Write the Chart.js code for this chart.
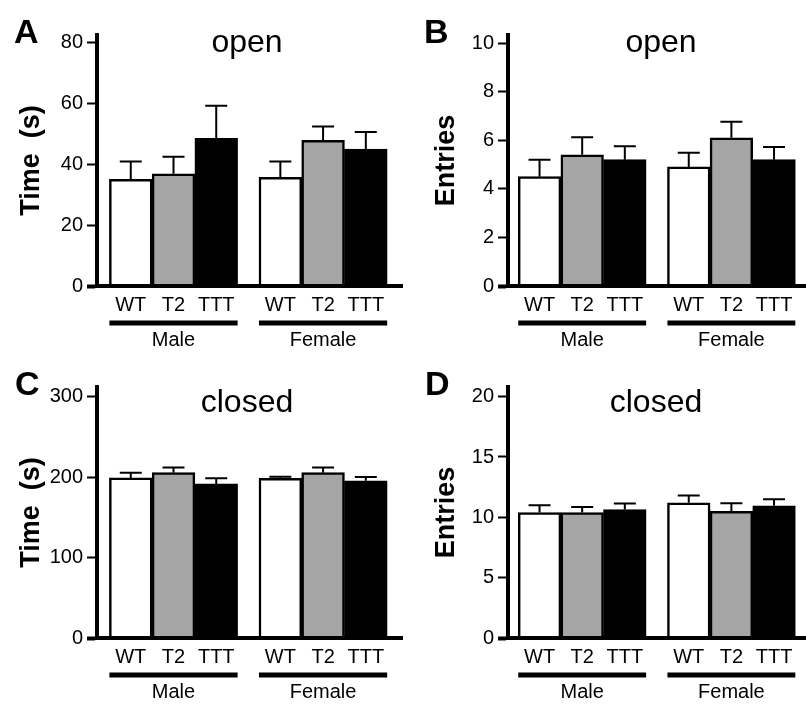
<!DOCTYPE html>
<html>
<head>
<meta charset="utf-8">
<script src="https://cdn.jsdelivr.net/npm/chart.js@4.4.1/dist/chart.umd.min.js"></script>
<style>
  html, body { margin: 0; padding: 0; background: #fff; }
  #wrap { position: relative; width: 806px; height: 704px; }
  .panel { position: absolute; width: 403px; height: 352px; }
  canvas { display: block; }
</style>
</head>
<body>
<div id="wrap">
  <div class="panel" style="left:0;top:0"><canvas id="panel-a" width="403" height="352"></canvas></div>
  <div class="panel" style="left:403px;top:0"><canvas id="panel-b" width="403" height="352"></canvas></div>
  <div class="panel" style="left:0;top:352px"><canvas id="panel-c" width="403" height="352"></canvas></div>
  <div class="panel" style="left:403px;top:352px"><canvas id="panel-d" width="403" height="352"></canvas></div>
</div>
<script>
const sexes = ['Male', 'Female'];
const barPositions = [0, 1, 2, 3.5, 4.5, 5.5];
const xTickLabels = ['WT', 'T2', 'TTT', 'WT', 'T2', 'TTT'];

// open arms
const openTimeMean = [35.0, 36.8, 48.4, 35.6, 47.8, 44.9];
const openTimeSem = [5.8, 5.6, 10.7, 5.2, 4.5, 5.6];
const openTimeTicks = [0, 20, 40, 60, 80];

const openEntriesMean = [4.5, 5.4, 5.2, 4.9, 6.1, 5.2];
const openEntriesSem = [0.7, 0.72, 0.55, 0.58, 0.66, 0.52];
const openEntriesTicks = [0, 2, 4, 6, 8, 10];

// closed arms
const closedTimeMean = [199, 205.5, 191.5, 198.5, 205.5, 195.5];
const closedTimeSem = [6.5, 6.5, 7, 2, 6.5, 4.5];
const closedTimeTicks = [0, 100, 200, 300];

const closedEntriesMean = [10.4, 10.4, 10.65, 11.2, 10.5, 10.95];
const closedEntriesSem = [0.6, 0.45, 0.5, 0.6, 0.67, 0.55];
const closedEntriesTicks = [0, 5, 10, 15, 20];

const barColors = ['#ffffff', '#a5a5a5', '#000000'];
const FONT = '"Liberation Sans", Arial, Helvetica, sans-serif';

Chart.defaults.font.family = FONT;
Chart.defaults.color = '#000';

const errorBars = {
  id: 'errorBars',
  afterDatasetsDraw(chart) {
    const { ctx } = chart;
    const yScale = chart.scales.y;
    const ds = chart.data.datasets[0];
    const meta = chart.getDatasetMeta(0);
    ctx.save();
    ctx.strokeStyle = '#000';
    ctx.lineWidth = 2;
    meta.data.forEach((bar, i) => {
      const top = yScale.getPixelForValue(ds.data[i].y + ds.sem[i]);
      ctx.beginPath();
      ctx.moveTo(bar.x, bar.y);
      ctx.lineTo(bar.x, top);
      ctx.moveTo(bar.x - 11, top);
      ctx.lineTo(bar.x + 11, top);
      ctx.stroke();
    });
    ctx.restore();
  }
};

const groupLabels = {
  id: 'groupLabels',
  afterDraw(chart) {
    const { ctx, chartArea } = chart;
    const x = chart.scales.x;
    ctx.save();
    ctx.fillStyle = '#000';
    ctx.font = '20px ' + FONT;
    ctx.textAlign = 'center';
    ctx.textBaseline = 'alphabetic';
    sexes.forEach((sex, g) => {
      const x1 = x.getPixelForValue(barPositions[g * 3] - 0.5);
      const x2 = x.getPixelForValue(barPositions[g * 3 + 2] + 0.5);
      ctx.fillRect(x1, chartArea.bottom + 34.5, x2 - x1, 5);
      ctx.fillText(sex, (x1 + x2) / 2, chartArea.bottom + 60);
    });
    ctx.restore();
  }
};

const panelText = {
  id: 'panelText',
  afterDraw(chart, args, opts) {
    const { ctx } = chart;
    ctx.save();
    ctx.fillStyle = '#000';
    ctx.textBaseline = 'alphabetic';
    ctx.textAlign = 'left';
    ctx.font = 'bold 34px ' + FONT;
    ctx.fillText(opts.letter, opts.letterX, 43);
    ctx.textAlign = 'center';
    ctx.font = '32px ' + FONT;
    ctx.fillText(opts.title, opts.titleX, opts.titleY);
    ctx.restore();
  }
};

function makePanel(canvasId, p) {
  return new Chart(document.getElementById(canvasId), {
    type: 'bar',
    data: {
      datasets: [{
        data: barPositions.map((x, i) => ({ x, y: p.mean[i] })),
        sem: p.sem,
        backgroundColor: barPositions.map((_, i) => barColors[i % 3]),
        borderColor: '#000',
        borderWidth: 2.5,
        barPercentage: 1,
        categoryPercentage: 1,
      }]
    },
    options: {
      responsive: false,
      animation: false,
      layout: { padding: { top: 35, left: 0, right: 0, bottom: 0 } },
      plugins: {
        legend: { display: false },
        tooltip: { enabled: false },
        panelText: { letter: p.letter, letterX: p.letterX, title: p.title, titleX: p.titleX, titleY: p.titleY },
      },
      scales: {
        x: {
          type: 'linear',
          min: p.xMin,
          max: p.xMax,
          offset: false,
          grid: { display: false, drawTicks: false, offset: false },
          border: { color: '#000', width: 4, z: 1 },
          afterBuildTicks: (axis) => { axis.ticks = barPositions.map((v) => ({ value: v })); },
          afterFit: (axis) => { axis.height = 66; },
          ticks: {
            autoSkip: false,
            maxRotation: 0,
            padding: 7,
            font: { size: 20 },
            callback: (v, i) => xTickLabels[i],
          },
        },
        y: {
          min: 0,
          max: p.yMax,
          afterBuildTicks: (axis) => { axis.ticks = p.yTicks.map((v) => ({ value: v })); },
          afterFit: (axis) => { axis.width = p.axisX; },
          grid: {
            drawOnChartArea: false,
            drawTicks: true,
            tickLength: 10,
            tickColor: '#000',
            tickWidth: (c) => (c.tick && c.tick.value === 0 ? 4 : 2),
          },
          border: { color: '#000', width: 4, z: 1 },
          ticks: { padding: 4, font: { size: 20 } },
          title: {
            display: true,
            text: p.yTitle,
            font: { size: 27, weight: 'bold' },
            padding: { top: p.titlePad, bottom: 0 },
          },
        },
      },
    },
    plugins: [errorBars, groupLabels, panelText],
  });
}

makePanel('panel-a', {
  mean: openTimeMean, sem: openTimeSem, yTicks: openTimeTicks, yMax: 82.3,
  yTitle: 'Time  (s)', titlePad: 15, axisX: 97, xMin: -0.79, xMax: 6.37,
  letter: 'A', letterX: 14, title: 'open', titleX: 247, titleY: 52,
});
makePanel('panel-b', {
  mean: openEntriesMean, sem: openEntriesSem, yTicks: openEntriesTicks, yMax: 10.33,
  yTitle: 'Entries', titlePad: 27, axisX: 105, xMin: -0.74, xMax: 6.25,
  letter: 'B', letterX: 21, title: 'open', titleX: 258, titleY: 52,
});
makePanel('panel-c', {
  mean: closedTimeMean, sem: closedTimeSem, yTicks: closedTimeTicks, yMax: 312,
  yTitle: 'Time  (s)', titlePad: 15, axisX: 97, xMin: -0.79, xMax: 6.37,
  letter: 'C', letterX: 15, title: 'closed', titleX: 247, titleY: 60,
});
makePanel('panel-d', {
  mean: closedEntriesMean, sem: closedEntriesSem, yTicks: closedEntriesTicks, yMax: 20.8,
  yTitle: 'Entries', titlePad: 27, axisX: 105, xMin: -0.74, xMax: 6.25,
  letter: 'D', letterX: 22, title: 'closed', titleX: 253, titleY: 60,
});
</script>
</body>
</html>
